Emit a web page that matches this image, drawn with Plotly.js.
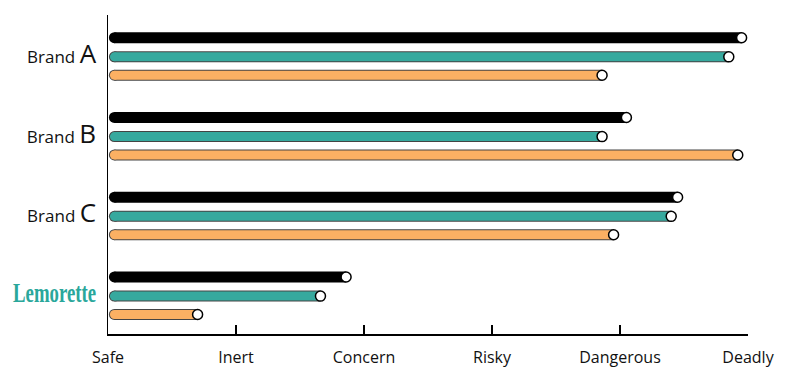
<!DOCTYPE html>
<html><head><meta charset="utf-8">
<script src="https://cdn.plot.ly/plotly-3.0.1.min.js"></script>
<style>body{margin:0;background:#fff}</style>
</head><body>
<div id="chart" style="width:796px;height:383px"></div>
<script>
const brands = ["Brand A", "Brand B", "Brand C", "Lemorette"];
const levels = ["Safe", "Inert", "Concern", "Risky", "Dangerous", "Deadly"];
const barStart = 0.05;
const seriesBlack = [4.95, 4.05, 4.45, 1.86];
const seriesTeal = [4.85, 3.86, 4.40, 1.66];
const seriesOrange = [3.86, 4.92, 3.95, 0.70];

const series = [
  {vals: seriesBlack, color: "#000000", border: "#000000", off: 0.24},
  {vals: seriesTeal, color: "#36a99e", border: "#444444", off: 0.0},
  {vals: seriesOrange, color: "#fbb063", border: "#444444", off: -0.23}
];
const groupY = brands.map((b, i) => brands.length - 1 - i);

const traces = [];
series.forEach(s => {
  s.vals.forEach((v, i) => {
    const y = groupY[i] + s.off;
    traces.push({x: [barStart, v], y: [y, y], mode: "lines", line: {color: s.border, width: 11},
      hoverinfo: "skip", showlegend: false, cliponaxis: false});
    traces.push({x: [barStart], y: [y], mode: "markers", marker: {color: s.border, size: 11, line: {width: 0}},
      hoverinfo: "skip", showlegend: false, cliponaxis: false});
    traces.push({x: [barStart, v], y: [y, y], mode: "lines", line: {color: s.color, width: 9},
      hoverinfo: "skip", showlegend: false, cliponaxis: false});
    traces.push({x: [barStart], y: [y], mode: "markers", marker: {color: s.color, size: 9, line: {width: 0}},
      hoverinfo: "skip", showlegend: false, cliponaxis: false});
    traces.push({x: [v], y: [y], mode: "markers", marker: {color: "#ffffff", size: 10, line: {color: "#000", width: 1.5}},
      hoverinfo: "skip", showlegend: false, cliponaxis: false});
  });
});

const ticktext = [
  "Brand <span style='font-size:26px'>A</span>",
  "Brand <span style='font-size:26px'>B</span>",
  "Brand <span style='font-size:26px'>C</span>",
  "<span style='font-family:\"Liberation Serif\",serif;font-weight:bold;font-size:27px;color:#2aa79b'>Lemorette</span>"
];

const layout = {
  width: 796, height: 383,
  margin: {l: 108, r: 48, t: 15, b: 49},
  paper_bgcolor: "#fff", plot_bgcolor: "#fff",
  font: {family: "'Open Sans', Lato, sans-serif", color: "#111", size: 16},
  xaxis: {range: [0, 5], tickvals: [0,1,2,3,4,5], ticktext: levels, ticks: "inside", ticklen: 9,
    tickwidth: 1.3, tickcolor: "#000", showgrid: false, zeroline: false, showline: true,
    linecolor: "#000", linewidth: 1.5, tickfont: {size: 16}, ticklabelstandoff: 8, fixedrange: true},
  yaxis: {range: [-0.475, 3.525], tickvals: groupY, ticktext: ticktext, ticks: "", showgrid: false,
    zeroline: false, showline: true, linecolor: "#000", linewidth: 1.5, ticklabelstandoff: 7,
    tickfont: {size: 17}, fixedrange: true}
};
Plotly.newPlot("chart", traces, layout, {displayModeBar: false, staticPlot: true}).then(gd => {
  gd.querySelectorAll(".ytick text").forEach(t => {
    if (t.textContent.indexOf("Lemorette") >= 0) {
      t.setAttribute("textLength", "83");
      t.setAttribute("lengthAdjust", "spacingAndGlyphs");
    }
  });
});
</script>
</body></html>
